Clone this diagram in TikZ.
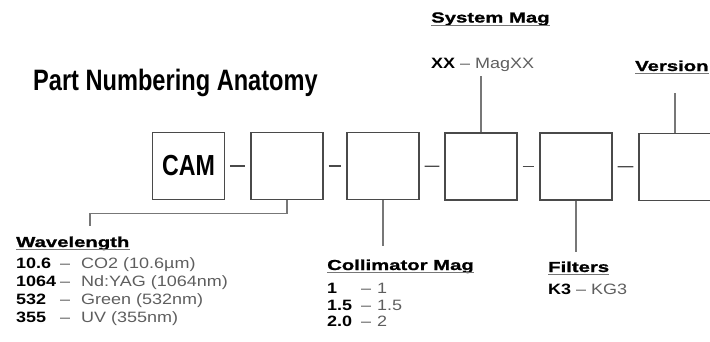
\documentclass[tikz,border=0pt]{standalone}
\usepackage{fontspec}
\setmainfont{Liberation Sans}
\newfontfamily\titlefont{Liberation Sans}[FakeStretch=0.8]
\newfontfamily\headfont{Liberation Sans}[FakeStretch=1.4,FakeBold=1.2]
\newfontfamily\bodyfont{Liberation Sans}[FakeStretch=1.2]
\definecolor{boxgray}{HTML}{4A4A4A}
\definecolor{linegray}{HTML}{777777}
\definecolor{txtgray}{HTML}{5E5E5E}
\newcommand{\wrow}[4]{\makebox[#3][l]{\textcolor{black}{\bfseries #1}}\makebox[#4][l]{–}#2}
\tikzset{
  partbox/.style={draw=boxgray, line width=1.3pt, minimum width=72pt, minimum height=67pt, inner sep=0pt},
  dashsep/.style={draw=boxgray, line width=1.2pt, shorten <=5pt, shorten >=5pt},
  link/.style={draw=linegray, line width=1.1pt},
  uline/.style={draw=linegray, line width=1pt},
  title/.style={anchor=base west, inner sep=0pt, font=\titlefont\bfseries\fontsize{29.5}{32}\selectfont},
  head/.style={anchor=base west, inner sep=0pt, font=\headfont\bfseries\fontsize{14.5}{16}\selectfont},
  val/.style={anchor=base west, inner sep=0pt, font=\bodyfont\fontsize{15}{17}\selectfont, text=txtgray}
}
\begin{document}
\begin{tikzpicture}[x=1pt,y=-1pt]
  \clip (0,0) rectangle (710,341);
  \node[title] (title) at (33,90) {Part Numbering Anatomy};

  \node[partbox, font=\titlefont\bfseries\fontsize{29}{30}\selectfont] (cam) at (188.5,166) {CAM};
  \node[partbox] (b1) at (287,166) {};
  \node[partbox] (b2) at (383,166) {};
  \node[partbox] (b3) at (481,166.5) {};
  \node[partbox] (b4) at (576,166.5) {};
  \node[partbox] (b5) at (675,167) {};
  \draw[dashsep] (cam) -- (b1);
  \draw[dashsep] (b1) -- (b2);
  \draw[dashsep] (b2) -- (b3);
  \draw[dashsep] (b3) -- (b4);
  \draw[dashsep] (b4) -- (b5);

  \node[head] (sysmag) at (431,22.5) {System Mag};
  \node[val] (sysmagval) at (431,68) {\textcolor{black}{\bfseries XX} – MagXX};
  \node[head] (version) at (635,71) {Version};
  \node[head] (wave) at (16,247) {Wavelength};
  \node[head] (coll) at (327,270) {Collimator Mag};
  \node[head] (filt) at (548,272) {Filters};
  \node[val] (filtval) at (548,294) {\textcolor{black}{\bfseries K3} – KG3};
  \foreach \h in {sysmag,version,wave,coll,filt}
    \draw[uline] ([yshift=-2.5pt]\h.base west) -- ([yshift=-2.5pt]\h.base east);

  \foreach \n/\t [count=\i] in {10.6/CO2 (10.6µm), 1064/Nd:YAG (1064nm), 532/Green (532nm), 355/UV (355nm)}
    \node[val] (wave\i) at (16,250+18*\i) {\wrow{\n}{\t}{44pt}{21pt}};
  \foreach \n/\t [count=\i] in {1/1, 1.5/1.5, 2.0/2}
    \node[val] (coll\i) at (327,277+16.5*\i) {\wrow{\n}{\t}{34pt}{16pt}};

  \coordinate (wavetop) at (90,226);
  \coordinate (colltop) at (383,246);
  \coordinate (filttop) at (576,252);
  \coordinate (sysmagbot) at (481,76);
  \coordinate (versionbot) at (675,93);
  \draw[link] (b1.south) -- ++(0,13) -| (wavetop);
  \draw[link] (b2.south) -- (colltop);
  \draw[link] (b4.south) -- (filttop);
  \draw[link] (b3.north) -- (sysmagbot);
  \draw[link] (b5.north) -- (versionbot);
\end{tikzpicture}
\end{document}
